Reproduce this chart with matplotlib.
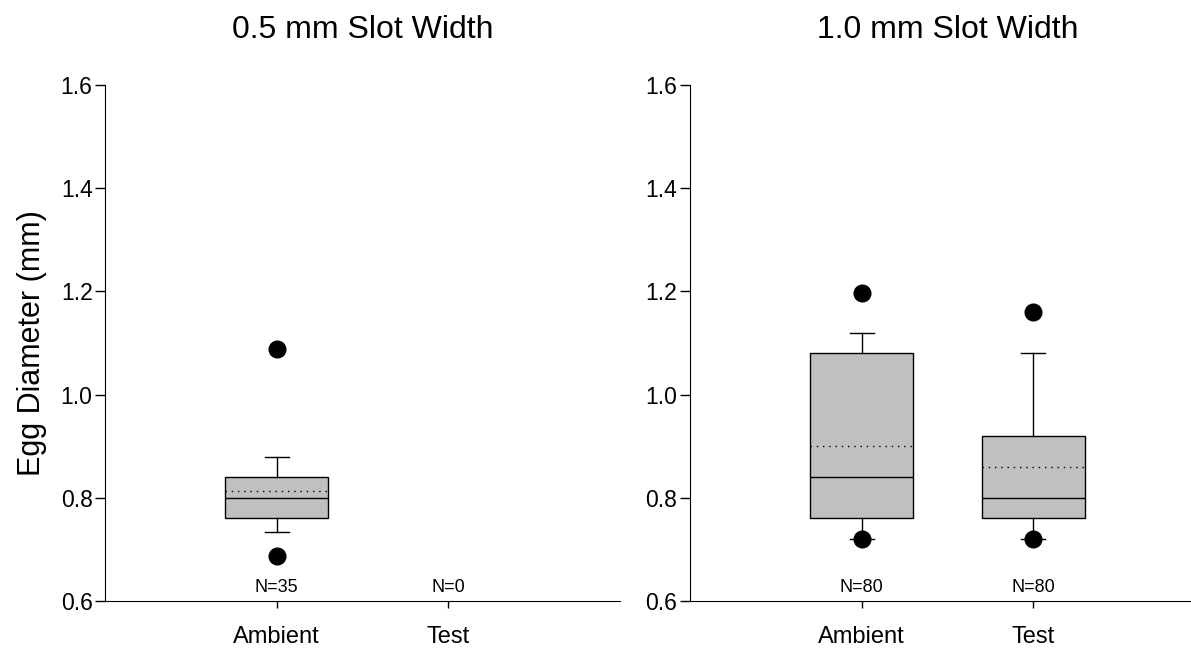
import matplotlib
matplotlib.use("Agg")
import matplotlib.pyplot as plt

plt.rcParams['font.family'] = ['Liberation Sans', 'DejaVu Sans']

groups = ["Ambient", "Test"]
slot_titles = ["0.5 mm Slot Width", "1.0 mm Slot Width"]
n_counts = [[35, 0], [80, 80]]

# one entry per drawn box: (panel, group position)
box_panel = [0, 1, 1]
box_group = [0, 0, 1]
whis_lo = [0.733, 0.72, 0.72]
q1 = [0.76, 0.76, 0.76]
median = [0.80, 0.84, 0.80]
q3 = [0.84, 1.08, 0.92]
whis_hi = [0.88, 1.12, 1.08]
means = [0.814, 0.900, 0.859]
outliers = [[0.687, 1.088], [0.72, 1.197], [0.72, 1.16]]

fig = plt.figure(figsize=(11.91, 6.51), dpi=100)
ax_left = fig.add_axes([0.0882, 0.0768, 0.4324, 0.7926])
ax_right = fig.add_axes([0.5793, 0.0768, 0.4324, 0.7926])
axes = [ax_left, ax_right]

for p, ax in enumerate(axes):
    stats, pos = [], []
    for i in range(len(q1)):
        if box_panel[i] != p:
            continue
        stats.append(dict(whislo=whis_lo[i], q1=q1[i], med=median[i], q3=q3[i],
                          whishi=whis_hi[i], mean=means[i], fliers=outliers[i]))
        pos.append(box_group[i] + 1)
    ax.bxp(stats, positions=pos, widths=0.6, capwidths=0.14, patch_artist=True,
           showmeans=True, meanline=True, manage_ticks=False,
           boxprops=dict(facecolor="#c0c0c0", edgecolor="black", linewidth=1),
           medianprops=dict(color="black", linewidth=1),
           meanprops=dict(color="black", linestyle=(0, (1, 3.5)), linewidth=1),
           whiskerprops=dict(color="black", linewidth=1),
           capprops=dict(color="black", linewidth=1),
           flierprops=dict(marker="o", markerfacecolor="black",
                           markeredgecolor="black", markersize=12))

    # sample sizes sit just above the x axis
    for g, n in enumerate(n_counts[p]):
        ax.text(g + 1, 0.618, "N=%d" % n, ha="center", va="baseline", fontsize=13)

    ax.set_xlim(0, 3)
    ax.set_ylim(0.6, 1.6)
    ax.set_xticks([1, 2])
    ax.set_xticklabels(groups, fontsize=17)
    ax.set_yticks([0.6, 0.8, 1.0, 1.2, 1.4, 1.6])
    ax.set_yticklabels(["0.6", "0.8", "1.0", "1.2", "1.4", "1.6"], fontsize=16.5)
    ax.tick_params(axis="y", direction="out", length=7, width=1, pad=2)
    ax.tick_params(axis="x", direction="out", length=5, width=1, pad=13)
    for s in ["top", "right"]:
        ax.spines[s].set_visible(False)
    ax.set_title(slot_titles[p], fontsize=23, pad=34)

ax_left.set_ylabel("Egg Diameter (mm)", fontsize=22, labelpad=10)

fig.savefig("out.png", dpi=100)
